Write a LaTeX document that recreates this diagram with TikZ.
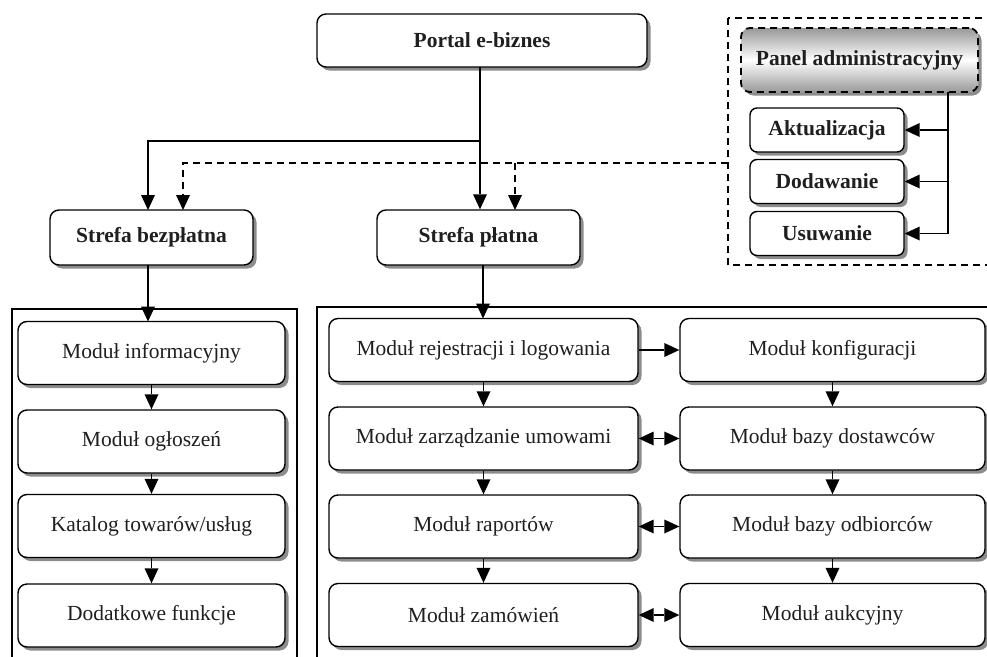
\documentclass[tikz,border=0pt]{standalone}
\usepackage{fontspec}
\setmainfont{Liberation Serif}
\usetikzlibrary{arrows.meta,shadows,calc}
\begin{document}
\begin{tikzpicture}[x=1pt,y=-1pt,
  every node/.style={font=\fontsize{21.5}{24}\selectfont, text=black!88},
  sh/.style={drop shadow={shadow xshift=3.5pt, shadow yshift=-3.5pt, fill=black!45, opacity=1}},
  box/.style={draw, line width=1.4pt, rounded corners=9pt, fill=white, sh, inner sep=0pt},
  head/.style={box, font=\bfseries\fontsize{21.5}{24}\selectfont},
  small/.style={box, rounded corners=7pt, font=\bfseries\fontsize{21.5}{24}\selectfont, minimum width=154pt, minimum height=44pt},
  modl/.style={box, minimum width=267pt, minimum height=63pt},
  modm/.style={box, minimum width=309pt, minimum height=63pt},
  modr/.style={box, minimum width=305pt, minimum height=63pt},
  tip/.tip={Triangle[length=15pt,width=14pt,line width=0pt]},
  arr/.style={line width=1.6pt, -tip},
  darr/.style={line width=1.6pt, tip-tip},
  dash line/.style={line width=1.3pt, dash pattern=on 7pt off 5pt},
  frame/.style={draw, line width=1.2pt}
]
\useasboundingbox (0,0) rectangle (987,656);

% frames around the two zones and the admin panel
\draw[frame] (12,309) rectangle (297,700);
\draw[frame] (317,307) rectangle (1010,700);
\draw[dash line] (728,18) rectangle (1010,265);

% top level
\node[head, minimum width=330pt, minimum height=53pt] (portal) at (482,40.5) {Portal e-biznes};
\node[head, minimum width=203pt, minimum height=55pt] (bezpl) at (151.5,237.5) {Strefa bezpłatna};
\node[head, minimum width=203pt, minimum height=55pt] (platna) at (478.5,237.5) {Strefa płatna};

% admin panel
\node[box, dash line, line width=1.8pt, top color=black!40, bottom color=black!40, middle color=white,
      font=\bfseries\fontsize{21.5}{24}\selectfont, minimum width=237pt, minimum height=64pt] (panel) at (859.5,60) {Panel administracyjny};
\node[small] (akt) at (827,130) {Aktualizacja};
\node[small] (dod) at (827,181.5) {Dodawanie};
\node[small] (usu) at (827,233.5) {Usuwanie};

% free zone modules
\node[modl] (inf) at (151.5,353) {Moduł informacyjny};
\node[modl] (ogl) at (151.5,441.5) {Moduł ogłoszeń};
\node[modl] (kat) at (151.5,526) {Katalog towarów/usług};
\node[modl] (dodf) at (151.5,615.5) {Dodatkowe funkcje};

% paid zone modules
\node[modm] (rej) at (483.5,350) {Moduł rejestracji i logowania};
\node[modm] (zarz) at (483.5,438.5) {Moduł zarządzanie umowami};
\node[modm] (rap) at (483.5,526.5) {Moduł raportów};
\node[modm] (zam) at (483.5,615) {Moduł zamówień};
\node[modr] (konf) at (832.5,350) {Moduł konfiguracji};
\node[modr] (dost) at (832.5,438.5) {Moduł bazy dostawców};
\node[modr] (odb) at (832.5,526.5) {Moduł bazy odbiorców};
\node[modr] (auk) at (832.5,615) {Moduł aukcyjny};

% portal to zones
\coordinate (ps) at (480,67);
\coordinate (pj) at (480,141);
\draw[arr] (ps) -- (ps |- platna.north);
\draw[arr] (pj) -| (148,210);

% admin panel to zones (dashed)
\coordinate (dj) at (728,163);
\draw[dash line, -tip] (dj) -| (183,210);
\draw[dash line, -tip] (515,163) -- (515,210);

% admin panel operations
\coordinate (pb) at (948,92);
\draw[line width=1.5pt] (pb) -- (948,233.5);
\draw[arr] (948,130) -- (akt.east);
\draw[arr] (948,181.5) -- (dod.east);
\draw[arr] (948,233.5) -- (usu.east);

% zones to first modules
\draw[arr] (148,265) -- (148,321.5);
\draw[arr] (483,265) -- (483,318.5);

% free zone chain
\draw[arr] (inf.south) -- (ogl.north);
\draw[arr] (ogl.south) -- (kat.north);
\draw[arr] (kat.south) -- (dodf.north);

% paid zone chains
\draw[arr] (rej.south) -- (zarz.north);
\draw[arr] (zarz.south) -- (rap.north);
\draw[arr] (rap.south) -- (zam.north);
\draw[arr] (konf.south) -- (dost.north);
\draw[arr] (dost.south) -- (odb.north);
\draw[arr] (odb.south) -- (auk.north);

% cross links
\draw[arr] (rej.east) -- (konf.west);
\draw[darr] (zarz.east) -- (dost.west);
\draw[darr] (rap.east) -- (odb.west);
\draw[darr] (zam.east) -- (auk.west);
\end{tikzpicture}
\end{document}
